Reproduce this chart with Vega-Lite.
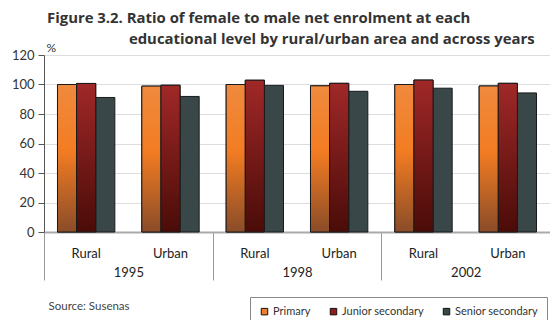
{
  "$schema": "https://vega.github.io/schema/vega-lite/v6.json",
  "autosize": "none",
  "width": 506,
  "height": 177,
  "padding": {"left": 44, "top": 55, "right": 0, "bottom": 88},
  "background": "white",
  "config": {
    "font": "Lato",
    "view": {"stroke": null}
  },
  "title": {
    "text": ["Figure 3.2. Ratio of female to male net enrolment at each", "\u200b\u2003\u2003\u2003\u2003\u2003\u2002educational level by rural/urban area and across years"],
    "anchor": "start",
    "frame": "group",
    "dx": 3,
    "offset": -6,
    "font": "Open Sans",
    "fontSize": 14.9,
    "fontWeight": "bold",
    "color": "#333333",
    "lineHeight": 21
  },
  "data": {
    "values": [
      {"year": "1995", "area": "Rural", "group": "1995 Rural", "level": "Primary", "value": 100.0},
      {"year": "1995", "area": "Rural", "group": "1995 Rural", "level": "Junior secondary", "value": 100.7},
      {"year": "1995", "area": "Rural", "group": "1995 Rural", "level": "Senior secondary", "value": 91.2},
      {"year": "1995", "area": "Urban", "group": "1995 Urban", "level": "Primary", "value": 98.9},
      {"year": "1995", "area": "Urban", "group": "1995 Urban", "level": "Junior secondary", "value": 99.5},
      {"year": "1995", "area": "Urban", "group": "1995 Urban", "level": "Senior secondary", "value": 91.9},
      {"year": "1998", "area": "Rural", "group": "1998 Rural", "level": "Primary", "value": 100.0},
      {"year": "1998", "area": "Rural", "group": "1998 Rural", "level": "Junior secondary", "value": 102.9},
      {"year": "1998", "area": "Rural", "group": "1998 Rural", "level": "Senior secondary", "value": 99.4},
      {"year": "1998", "area": "Urban", "group": "1998 Urban", "level": "Primary", "value": 99.1},
      {"year": "1998", "area": "Urban", "group": "1998 Urban", "level": "Junior secondary", "value": 100.8},
      {"year": "1998", "area": "Urban", "group": "1998 Urban", "level": "Senior secondary", "value": 95.4},
      {"year": "2002", "area": "Rural", "group": "2002 Rural", "level": "Primary", "value": 100.0},
      {"year": "2002", "area": "Rural", "group": "2002 Rural", "level": "Junior secondary", "value": 103.0},
      {"year": "2002", "area": "Rural", "group": "2002 Rural", "level": "Senior secondary", "value": 97.5},
      {"year": "2002", "area": "Urban", "group": "2002 Urban", "level": "Primary", "value": 99.0},
      {"year": "2002", "area": "Urban", "group": "2002 Urban", "level": "Junior secondary", "value": 100.8},
      {"year": "2002", "area": "Urban", "group": "2002 Urban", "level": "Senior secondary", "value": 94.3}
    ]
  },
  "layer": [
    {
      "mark": {"type": "bar", "opacity": 0},
      "encoding": {
        "x": {
          "field": "year", "type": "nominal",
          "scale": {"paddingInner": 0, "paddingOuter": 0},
          "axis": {
            "orient": "bottom",
            "title": "Source: Susenas",
            "titleAnchor": "start",
            "titleAlign": "left",
            "titleFontSize": 11.5,
            "titleFontWeight": "normal",
            "titleColor": "#444444",
            "titlePadding": 20,
            "titleX": 4,
            "titleBaseline": "top",
            "domain": false,
            "tickBand": "extent",
            "tickSize": 48,
            "tickColor": "#999999",
            "labelPadding": -1,
            "labelAngle": 0,
            "labelFontSize": 13,
            "labelColor": "#222222",
            "labelBaseline": "bottom"
          }
        }
      }
    },
    {
      "encoding": {
        "x": {
          "field": "group", "type": "nominal",
          "scale": {"paddingInner": 0.32, "paddingOuter": 0.16},
          "axis": {
            "orient": "bottom",
            "title": null,
            "labelExpr": "split(datum.label, ' ')[1]",
            "labelAngle": 0,
            "labelPadding": 15,
            "labelFontSize": 13,
            "labelColor": "#222222",
            "ticks": false,
            "domainColor": "#aaaaaa",
            "domainWidth": 2
          }
        },
        "xOffset": {
          "field": "level", "type": "nominal",
          "scale": {"domain": ["Primary", "Junior secondary", "Senior secondary"], "paddingInner": 0, "paddingOuter": 0}
        },
        "y": {
          "field": "value", "type": "quantitative",
          "scale": {"domain": [0, 120]},
          "axis": {
            "values": [0, 20, 40, 60, 80, 100, 120],
            "title": "%",
            "titleAngle": 0,
            "titleAlign": "left",
            "titleBaseline": "bottom",
            "titleX": 2,
            "titleY": -1,
            "titleFontSize": 12,
            "titleFontWeight": "normal",
            "titleColor": "#333333",
            "labelFontSize": 13,
            "labelColor": "#333333",
            "labelPadding": 4,
            "tickSize": 6,
            "tickColor": "#555555",
            "domainColor": "#555555",
            "gridColor": "#dddddd"
          }
        }
      },
      "layer": [
        {
          "mark": {"type": "bar", "stroke": "#1a1a1a", "strokeWidth": 1},
          "encoding": {
            "color": {
              "field": "level", "type": "nominal",
              "scale": {
                "domain": ["Primary", "Junior secondary", "Senior secondary"],
                "range": ["#ef7f2c", "#8e1c1a", "#3a4748"]
              },
              "legend": {
                "title": null,
                "orient": "none",
                "direction": "horizontal",
                "legendX": 206,
                "legendY": 242,
                "symbolType": "square",
                "symbolSize": 42,
                "symbolOpacity": 1,
                "symbolStrokeColor": "#111111",
                "symbolStrokeWidth": 1,
                "labelFontSize": 11,
                "labelColor": "#333333",
                "labelOffset": 3,
                "columnPadding": 17,
                "strokeColor": "#888888",
                "padding": 9,
                "fillColor": "white"
              }
            }
          }
        },
        {
          "transform": [{"filter": "datum.level === 'Primary'"}],
          "mark": {
            "type": "bar", "stroke": "#1a1a1a", "strokeWidth": 1,
            "color": {"gradient": "linear", "x1": 0, "y1": 0, "x2": 0, "y2": 1, "stops": [{"offset": 0, "color": "#ef8a3e"}, {"offset": 0.45, "color": "#f37c22"}, {"offset": 1, "color": "#8a4c28"}]}
          }
        },
        {
          "transform": [{"filter": "datum.level === 'Junior secondary'"}],
          "mark": {
            "type": "bar", "stroke": "#1a1a1a", "strokeWidth": 1,
            "color": {"gradient": "linear", "x1": 0, "y1": 0, "x2": 0, "y2": 1, "stops": [{"offset": 0, "color": "#a02828"}, {"offset": 1, "color": "#4a0c08"}]}
          }
        }
      ]
    }
  ],
  "resolve": {"scale": {"x": "independent"}, "axis": {"x": "independent"}}
}
